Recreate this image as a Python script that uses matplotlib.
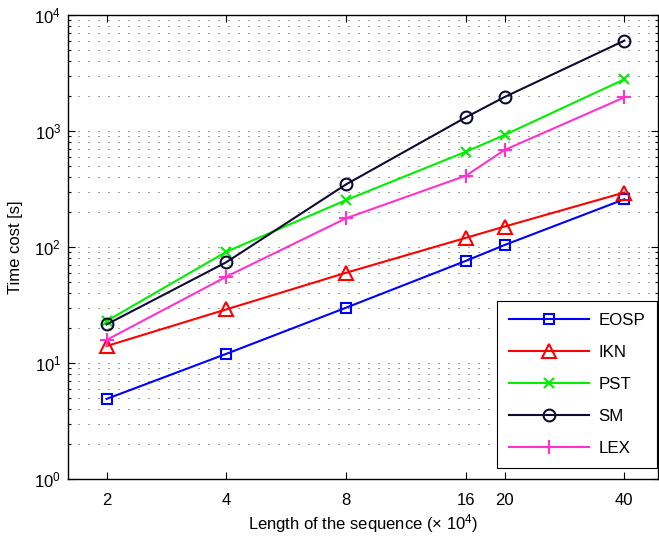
import matplotlib
matplotlib.use("Agg")
import matplotlib.pyplot as plt
from matplotlib.ticker import FixedLocator, FixedFormatter, LogLocator, NullFormatter

plt.rcParams['font.family'] = ['Liberation Sans', 'DejaVu Sans']
plt.rcParams['mathtext.default'] = 'regular'

x_vals = [2, 4, 8, 16, 20, 40]
x_labels = ['2', '4', '8', '16', '20', '40']

eosp = [4.9, 12, 30, 76, 104, 258]
ikn = [14, 29, 60, 120, 150, 295]
pst = [23, 91, 254, 663, 924, 2790]
sm = [21.5, 74, 347, 1313, 1963, 6010]
lex = [15.8, 55.5, 177, 412, 686, 1950]

series = [
    ('EOSP', eosp, '#0000ff', 's', 7.5),
    ('IKN', ikn, '#ff0000', '^', 9.5),
    ('PST', pst, '#00ee00', 'x', 7.5),
    ('SM', sm, '#0d0d33', 'o', 8.5),
    ('LEX', lex, '#ff33cc', '+', 10),
]

fig = plt.figure(figsize=(6.59, 5.37), dpi=100)
ax = fig.add_axes([68/659, 1-479/537, 590/659, 464/537])

for name, vals, col, mk, ms in series:
    ax.plot(x_vals, vals, color=col, marker=mk, markersize=ms, markerfacecolor='none',
            markeredgecolor=col, markeredgewidth=1.5, linewidth=1.5, label=name)

ax.set_xscale('log')
ax.set_yscale('log')
ax.set_xlim(1.6, 48.6)
ax.set_ylim(1, 1e4)

ax.xaxis.set_major_locator(FixedLocator(x_vals))
ax.xaxis.set_major_formatter(FixedFormatter(x_labels))
ax.xaxis.set_minor_locator(FixedLocator([]))
ax.yaxis.set_major_locator(LogLocator(base=10, numticks=10))
ax.yaxis.set_minor_locator(LogLocator(base=10, subs=range(2, 10), numticks=20))
ax.yaxis.set_minor_formatter(NullFormatter())

ax.tick_params(which='both', direction='in', top=True, right=True, labelsize=12, width=0.8)
ax.tick_params(which='major', length=5)
ax.tick_params(which='minor', length=2.5)
ax.tick_params(axis='x', pad=10)
ax.tick_params(axis='y', pad=5)

ax.grid(True, which='both', axis='y', color='0.25', linestyle=(0, (1, 9)), linewidth=0.72)
for s in ax.spines.values():
    s.set_linewidth(1.0)

ax.set_xlabel('Length of the sequence (× 10$^4$)', fontsize=12, labelpad=3)
ax.set_ylabel('Time cost [s]', fontsize=12, labelpad=8)

leg = ax.legend(loc='lower right', bbox_to_anchor=(0.998, 0.024), borderaxespad=0,
                fancybox=False, edgecolor='black', framealpha=1, fontsize=12.2,
                handlelength=4.7, handletextpad=0.55, labelspacing=1.0,
                borderpad=0.7)
leg.get_frame().set_linewidth(0.8)

fig.savefig('out.png', dpi=100)
